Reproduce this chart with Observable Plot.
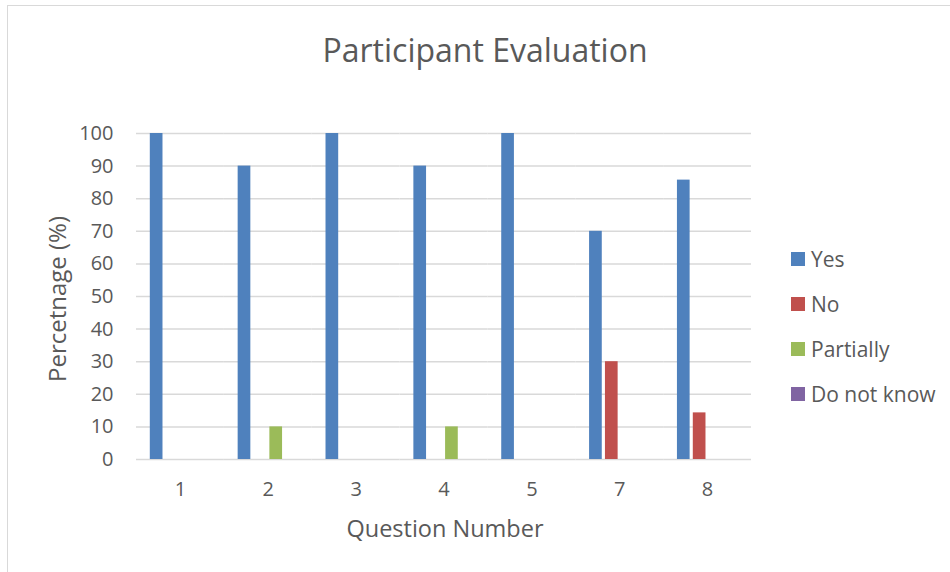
<!DOCTYPE html>
<html>
<head>
<meta charset="utf-8">
<script src="https://cdn.jsdelivr.net/npm/d3@7"></script>
<script src="https://cdn.jsdelivr.net/npm/@observablehq/plot@0.6"></script>
<style>
  html, body { margin: 0; padding: 0; background: #fff; overflow: hidden; }
  #wrap { position: relative; width: 950px; height: 572px; overflow: hidden; font-family: "Open Sans", sans-serif; color: #595959; }
  #frame { position: absolute; left: 7px; top: 5px; width: 1200px; height: 1200px; border: 1.5px solid #d9d9d9; box-sizing: border-box; }
  #title { position: absolute; left: 485px; top: 49px; transform: translate(-50%, -50%); font-size: 32px; font-weight: 400; white-space: nowrap; }
  #ytitle { position: absolute; left: 56px; top: 299px; transform: translate(-50%, -50%) rotate(-90deg); font-size: 24px; white-space: nowrap; }
  #xtitle { position: absolute; left: 445px; top: 528px; transform: translate(-50%, -50%); font-size: 23.5px; white-space: nowrap; }
  #chart { position: absolute; left: 0; top: 100px; }
  #legend { position: absolute; left: 791px; top: 0; }
  .li { position: absolute; left: 0; display: flex; align-items: center; white-space: nowrap; font-size: 21px; transform: translateY(-50%); }
  .sw { width: 14px; height: 14px; margin-right: 6px; }
</style>
</head>
<body>
<div id="wrap">
  <div id="frame"></div>
  <div id="title">Participant Evaluation</div>
  <div id="chart"></div>
  <div id="ytitle">Percetnage (%)</div>
  <div id="xtitle">Question Number</div>
  <div id="legend"></div>
</div>
<script>
const questions = ["1", "2", "3", "4", "5", "7", "8"];
const series = ["Yes", "No", "Partially", "Do not know"];
const yesValues = [100, 90, 100, 90, 100, 70, 85.7];
const noValues = [0, 0, 0, 0, 0, 30, 14.3];
const partiallyValues = [0, 10, 0, 10, 0, 0, 0];
const dontKnowValues = [0, 0, 0, 0, 0, 0, 0];
const colors = ["#4f81bd", "#c0504d", "#9bbb59", "#8064a2"];
const yTicks = [0, 10, 20, 30, 40, 50, 60, 70, 80, 90, 100];

const valuesBySeries = [yesValues, noValues, partiallyValues, dontKnowValues];
const data = [];
questions.forEach((q, i) => {
  series.forEach((s, j) => {
    data.push({question: q, series: s, value: valuesBySeries[j][i]});
  });
});

const chart = Plot.plot({
  width: 950,
  height: 410,
  marginLeft: 136,
  marginRight: 199,
  marginTop: 33,
  marginBottom: 51,
  style: {fontFamily: "Open Sans, sans-serif", fontSize: "20px", color: "#595959", background: "transparent"},
  fx: {domain: questions, padding: 0, round: false, label: null},
  x: {domain: series, paddingInner: 0.2, paddingOuter: 0.87, round: false, axis: null},
  y: {domain: [0, 100], label: null},
  color: {domain: series, range: colors},
  marks: [
    Plot.gridY(yTicks, {stroke: "#d9d9d9", strokeOpacity: 1, strokeWidth: 1.5}),
    Plot.axisY(yTicks, {tickSize: 0, tickPadding: 23, label: null, fill: "#595959", fontSize: 20}),
    Plot.axisFx({anchor: "bottom", tickSize: 0, tickPadding: 22, label: null, fill: "#595959", fontSize: 20}),
    Plot.barY(data, {fx: "question", x: "series", y: "value", fill: "series"})
  ]
});
document.getElementById("chart").appendChild(chart);

const legend = document.getElementById("legend");
const legendY = [259, 304, 349, 394];
series.forEach((s, j) => {
  const item = document.createElement("div");
  item.className = "li";
  item.style.top = legendY[j] + "px";
  const sw = document.createElement("div");
  sw.className = "sw";
  sw.style.background = colors[j];
  const t = document.createElement("span");
  t.textContent = s;
  item.appendChild(sw);
  item.appendChild(t);
  legend.appendChild(item);
});
</script>
</body>
</html>
